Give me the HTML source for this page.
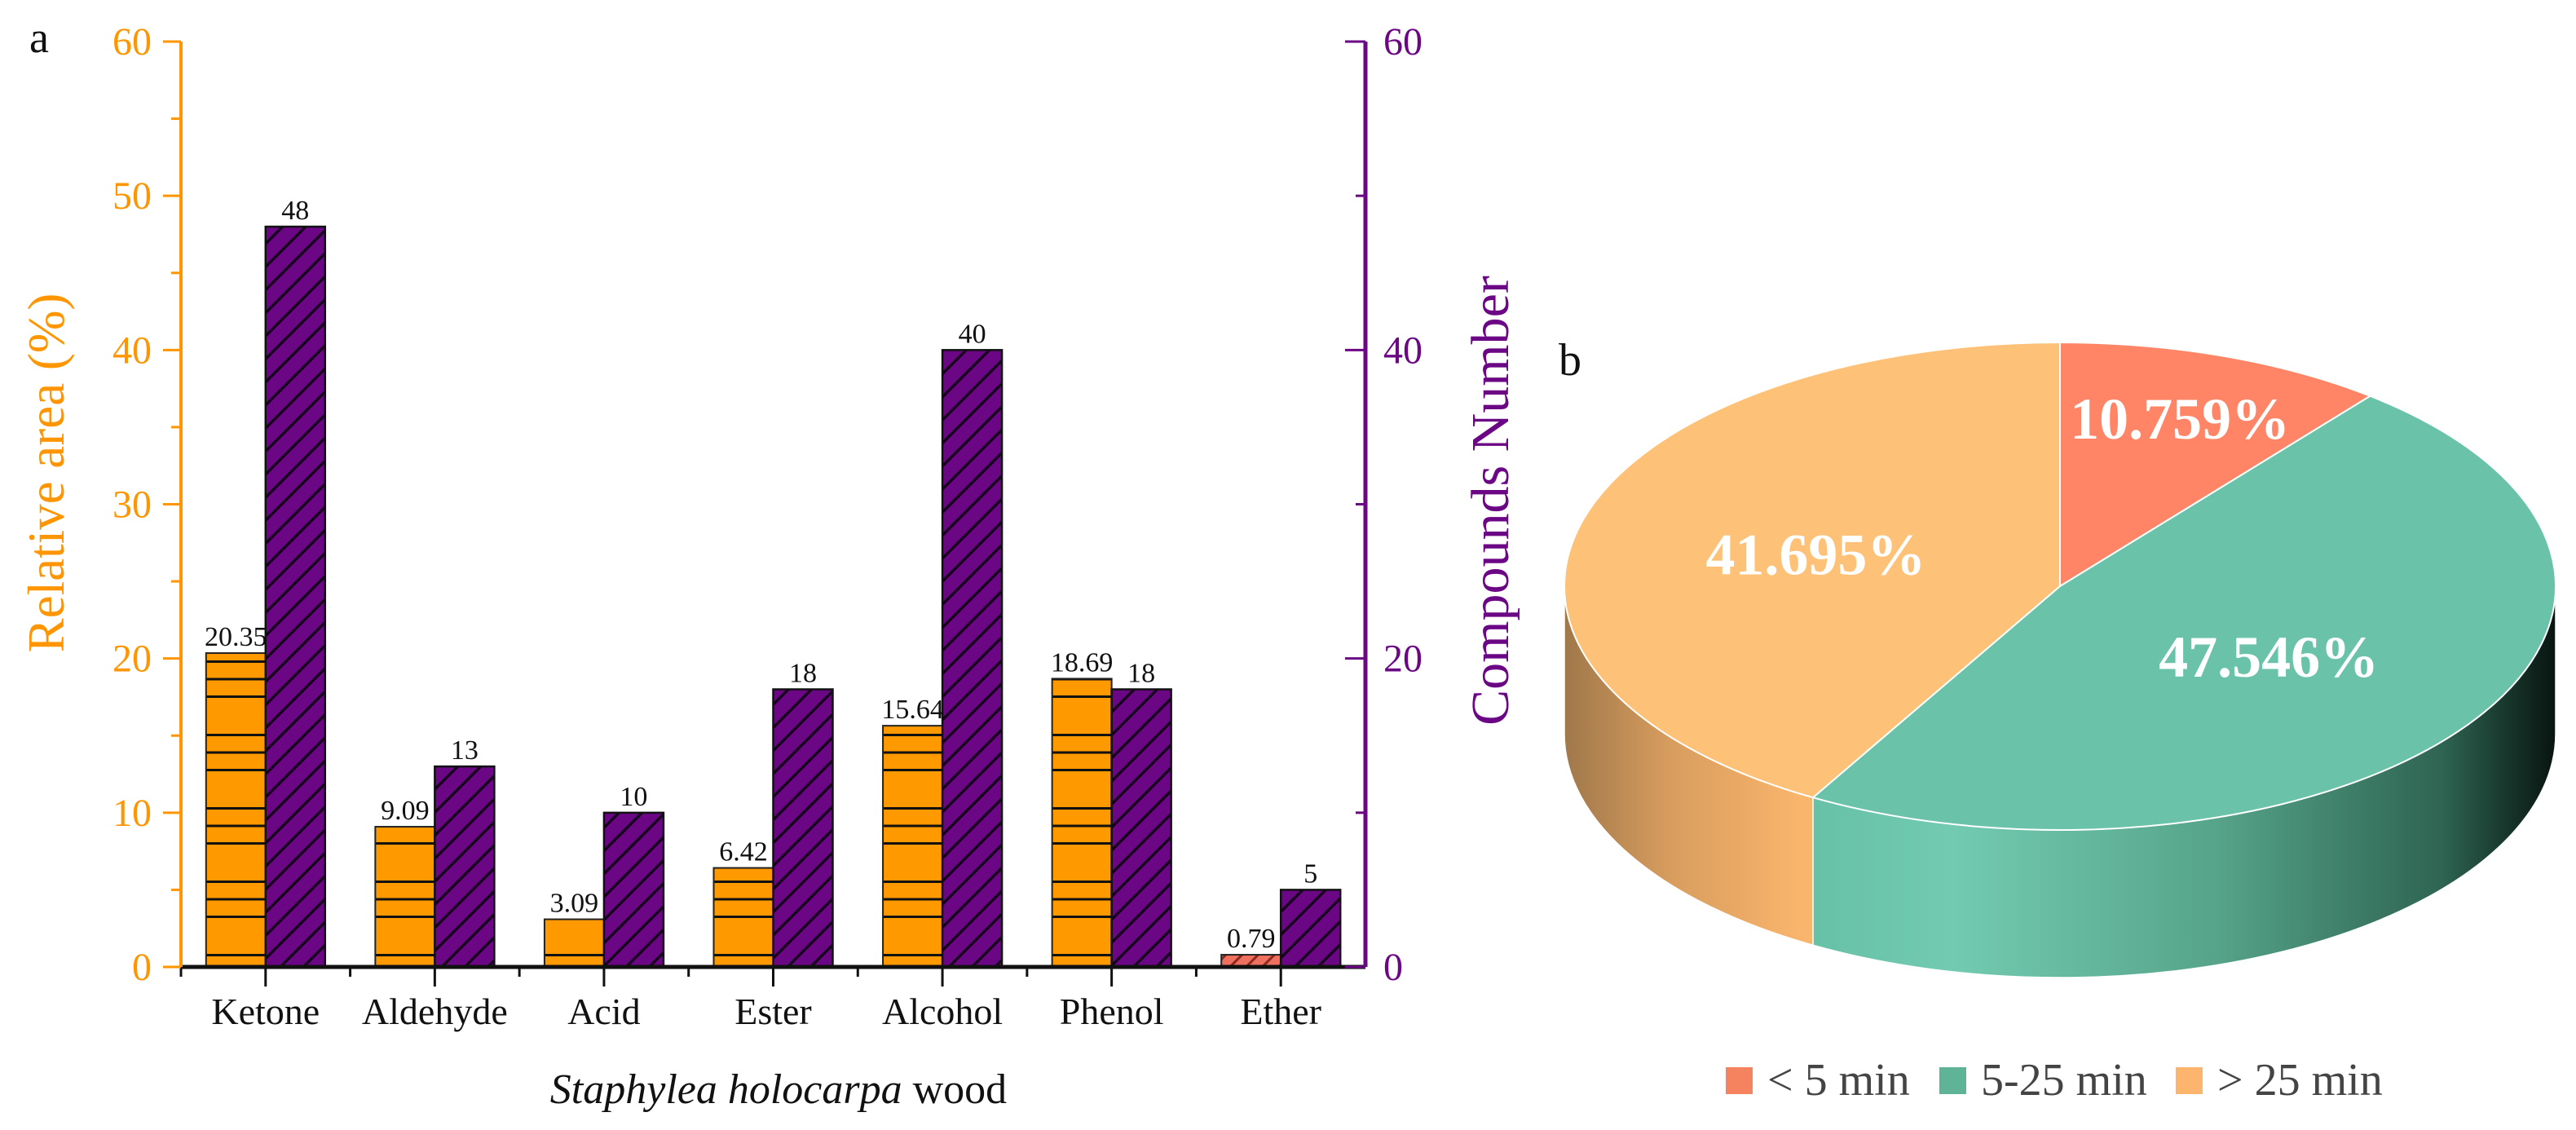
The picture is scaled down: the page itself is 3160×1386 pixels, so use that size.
<!DOCTYPE html>
<html><head><meta charset="utf-8"><style>
html,body{margin:0;padding:0;background:#fff;}
svg{display:block;}
text{font-family:"Liberation Serif",serif;}
</style></head>
<body>
<svg id="fig" width="3160" height="1386" viewBox="0 0 3160 1386" xmlns="http://www.w3.org/2000/svg">
<defs>
  <pattern id="hOrange" patternUnits="userSpaceOnUse" width="20" height="90" y="0">
    <rect width="20" height="90" fill="#FF9900"/>
    <rect y="0" width="20" height="3" fill="#111"/>
    <rect y="21.5" width="20" height="3" fill="#111"/>
    <rect y="43" width="20" height="3" fill="#111"/>
  </pattern>
  <pattern id="hPurple" patternUnits="userSpaceOnUse" width="20" height="20" patternTransform="rotate(45)">
    <rect width="20" height="20" fill="#6B0785"/>
    <rect x="0" width="3.5" height="20" fill="#1a0020"/>
  </pattern>
  <pattern id="hRed" patternUnits="userSpaceOnUse" width="14" height="14" patternTransform="rotate(45)">
    <rect width="14" height="14" fill="#F07060"/>
    <rect width="3" height="14" fill="#8a2a20"/>
  </pattern>
  <linearGradient id="gSide0" x1="0" x2="1" y1="0" y2="0">
    <stop offset="0" stop-color="#FF8566"/><stop offset="1" stop-color="#B05038"/>
  </linearGradient>
  <linearGradient id="gSide1" gradientUnits="userSpaceOnUse" x1="2209" x2="3135" y1="0" y2="0">
    <stop offset="0" stop-color="#66C0A6"/><stop offset="0.2" stop-color="#72CBB0"/>
    <stop offset="0.55" stop-color="#56A48A"/><stop offset="0.85" stop-color="#2E6452"/>
    <stop offset="1" stop-color="#08140F"/>
  </linearGradient>
  <linearGradient id="gSide2" gradientUnits="userSpaceOnUse" x1="1919" x2="2209" y1="0" y2="0">
    <stop offset="0" stop-color="#A0784A"/><stop offset="0.45" stop-color="#D89D5E"/>
    <stop offset="1" stop-color="#F9B56C"/>
  </linearGradient>
</defs>
<g id="barChart"></g>
<g id="pieChart"></g>
</svg>
<script>
const categories = ["Ketone","Aldehyde","Acid","Ester","Alcohol","Phenol","Ether"];
const relArea = [20.35, 9.09, 3.09, 6.42, 15.64, 18.69, 0.79];
const relAreaLabels = ["20.35","9.09","3.09","6.42","15.64","18.69","0.79"];
const compounds = [48, 13, 10, 18, 40, 18, 5];
const leftTicks = [0,10,20,30,40,50,60];
const rightTicks = [0,20,40,60];
const pieLabels = ["< 5 min","5-25 min","> 25 min"];
const pieValues = [10.759, 47.546, 41.695];

const NS = "http://www.w3.org/2000/svg";
function mk(tag, attrs, parent, txt){
  const e = document.createElementNS(NS, tag);
  for (const k in attrs) e.setAttribute(k, attrs[k]);
  if (txt !== undefined) e.textContent = txt;
  parent.appendChild(e);
  return e;
}
// ---------- bar chart ----------
const bc = document.getElementById('barChart');
const X0 = 222, X1 = 1675, Y0 = 1186, YT = 51;
const band = (X1 - X0) / categories.length;
const yScale = v => Y0 - v * (Y0 - YT) / 60;
const xCenter = i => X0 + band * (i + 0.5);
const BW = 73;

categories.forEach((c, i) => {
  const cx = xCenter(i);
  const yo = yScale(relArea[i]);
  const ob = mk('rect', {x: cx - BW, y: yo, width: BW, height: Y0 - yo, fill: c === 'Ether' ? 'url(#hRed)' : 'url(#hOrange)', stroke: '#222', 'stroke-width': 2}, bc);
  
  
  const yp = yScale(compounds[i]);
  const pb = mk('rect', {x: cx, y: yp, width: BW, height: Y0 - yp, fill: 'url(#hPurple)', stroke: '#111', 'stroke-width': 2.5}, bc);
  
  
  const l1 = mk('text', {x: cx - BW / 2, y: yo - 9, 'font-size': 34, 'text-anchor': 'middle', fill: '#111'}, bc, relAreaLabels[i]);
  
  
  const l2 = mk('text', {x: cx + BW / 2, y: yp - 9, 'font-size': 34, 'text-anchor': 'middle', fill: '#111'}, bc, String(compounds[i]));
  
  
  const cl = mk('text', {x: cx, y: 1256, 'font-size': 46, 'text-anchor': 'middle', fill: '#111'}, bc, c);
  
  
  mk('line', {x1: cx, x2: cx, y1: Y0, y2: Y0 + 24, stroke: '#111', 'stroke-width': 3}, bc);
  mk('line', {x1: X0 + band * i, x2: X0 + band * i, y1: Y0, y2: Y0 + 12, stroke: '#111', 'stroke-width': 3}, bc);
});
// axes
const xAxis = mk('line', {x1: X0, x2: X1, y1: Y0, y2: Y0, stroke: '#111', 'stroke-width': 5}, bc);


const la = mk('line', {x1: X0, x2: X0, y1: YT, y2: Y0, stroke: '#FF9500', 'stroke-width': 4}, bc);


const ra = mk('line', {x1: X1, x2: X1, y1: YT, y2: Y0, stroke: '#6B0785', 'stroke-width': 5}, bc);


for (let v = 0; v <= 60; v += 5) {
  const major = v % 10 === 0;
  mk('line', {x1: X0 - (major ? 22 : 12), x2: X0, y1: yScale(v), y2: yScale(v), stroke: '#FF9500', 'stroke-width': 3}, bc);
  const rmajor = v % 20 === 0;
  if (v % 10 === 0) mk('line', {x1: X1 - (rmajor ? 25 : 12), x2: X1, y1: yScale(v), y2: yScale(v), stroke: '#6B0785', 'stroke-width': 3}, bc);
}
leftTicks.forEach(v => {
  const t = mk('text', {x: 186, y: yScale(v) + 16, 'font-size': 48, 'text-anchor': 'end', fill: '#FF9500'}, bc, String(v));
  
  
});
rightTicks.forEach(v => {
  const t = mk('text', {x: 1697, y: yScale(v) + 16, 'font-size': 48, 'text-anchor': 'start', fill: '#6B0785'}, bc, String(v));
  
  
});
const lt = mk('text', {x: 0, y: 0, 'font-size': 63, 'text-anchor': 'middle', fill: '#FF9500', transform: 'translate(78,580) rotate(-90)'}, bc, 'Relative area (%)');


const rt = mk('text', {x: 0, y: 0, 'font-size': 66, 'text-anchor': 'middle', fill: '#6B0785', transform: 'translate(1850,614) rotate(-90)'}, bc, 'Compounds Number');


const xt = mk('text', {x: 955, y: 1353, 'font-size': 52, 'text-anchor': 'middle', fill: '#111'}, bc);


mk('tspan', {'font-style': 'italic'}, xt, 'Staphylea holocarpa');
mk('tspan', {}, xt, ' wood');
const pa = mk('text', {x: 36, y: 64, 'font-size': 54, fill: '#111', 'font-family': 'Liberation Sans, sans-serif'}, bc, 'a');



// ---------- pie chart ----------
const pc = document.getElementById('pieChart');
const CX = 2527, CY = 719, RX = 608, RY = 299, DEPTH = 181;
const topColors = ['#FF8566', '#6AC3A9', '#FDC277'];
const legendColors = ['#F58360', '#5FB396', '#FDB56E'];
const sideFills = ['url(#gSide0)', 'url(#gSide1)', 'url(#gSide2)'];
const total = pieValues.reduce((a, b) => a + b, 0);
const pt = (t, dy) => [CX + RX * Math.sin(t), CY - RY * Math.cos(t) + (dy || 0)];
let acc = 0;
const slices = pieValues.map(v => { const a0 = acc / total * 2 * Math.PI; acc += v; return [a0, acc / total * 2 * Math.PI]; });
slices.forEach(([a0, a1], i) => {
  const s = Math.max(a0, Math.PI / 2), e = Math.min(a1, 3 * Math.PI / 2);
  if (e <= s) return;
  const p0 = pt(s), p1 = pt(e), q1 = pt(e, DEPTH), q0 = pt(s, DEPTH);
  const large = (e - s) > Math.PI ? 1 : 0;
  const d = `M${p0[0]},${p0[1]} A${RX},${RY} 0 ${large} 1 ${p1[0]},${p1[1]} L${q1[0]},${q1[1]} A${RX},${RY} 0 ${large} 0 ${q0[0]},${q0[1]} Z`;
  const side = mk('path', {d, fill: sideFills[i], stroke: '#fff', 'stroke-width': 1.5}, pc);
  
  
});
slices.forEach(([a0, a1], i) => {
  const p0 = pt(a0), p1 = pt(a1);
  const large = (a1 - a0) > Math.PI ? 1 : 0;
  const d = `M${CX},${CY} L${p0[0]},${p0[1]} A${RX},${RY} 0 ${large} 1 ${p1[0]},${p1[1]} Z`;
  const sl = mk('path', {d, fill: topColors[i], stroke: '#fff', 'stroke-width': 2}, pc);
  
  
});
slices.forEach(([a0, a1], i) => {
  const m = (a0 + a1) / 2;
  const k = pieValues[i] / total < 0.2 ? 0.73 : 0.51;
  const x = CX + k * RX * Math.sin(m), y = CY - k * RY * Math.cos(m);
  const t = mk('text', {x, y: y + 25, 'font-size': 72, 'font-weight': 'bold', 'text-anchor': 'middle', fill: '#fff'}, pc, pieValues[i].toFixed(3) + '%');
  
  
});
const pb2 = mk('text', {x: 1912, y: 460, 'font-size': 56, fill: '#111'}, pc, 'b');


// legend
const legX = [2117, 2379, 2669];
pieLabels.forEach((lab, i) => {
  const sw = mk('rect', {x: legX[i], y: 1309, width: 33, height: 33, fill: legendColors[i]}, pc);
  
  
  const t = mk('text', {x: legX[i] + 51, y: 1343, 'font-size': 56, fill: '#444'}, pc, lab);
  
  
});
</script>
</body></html>
